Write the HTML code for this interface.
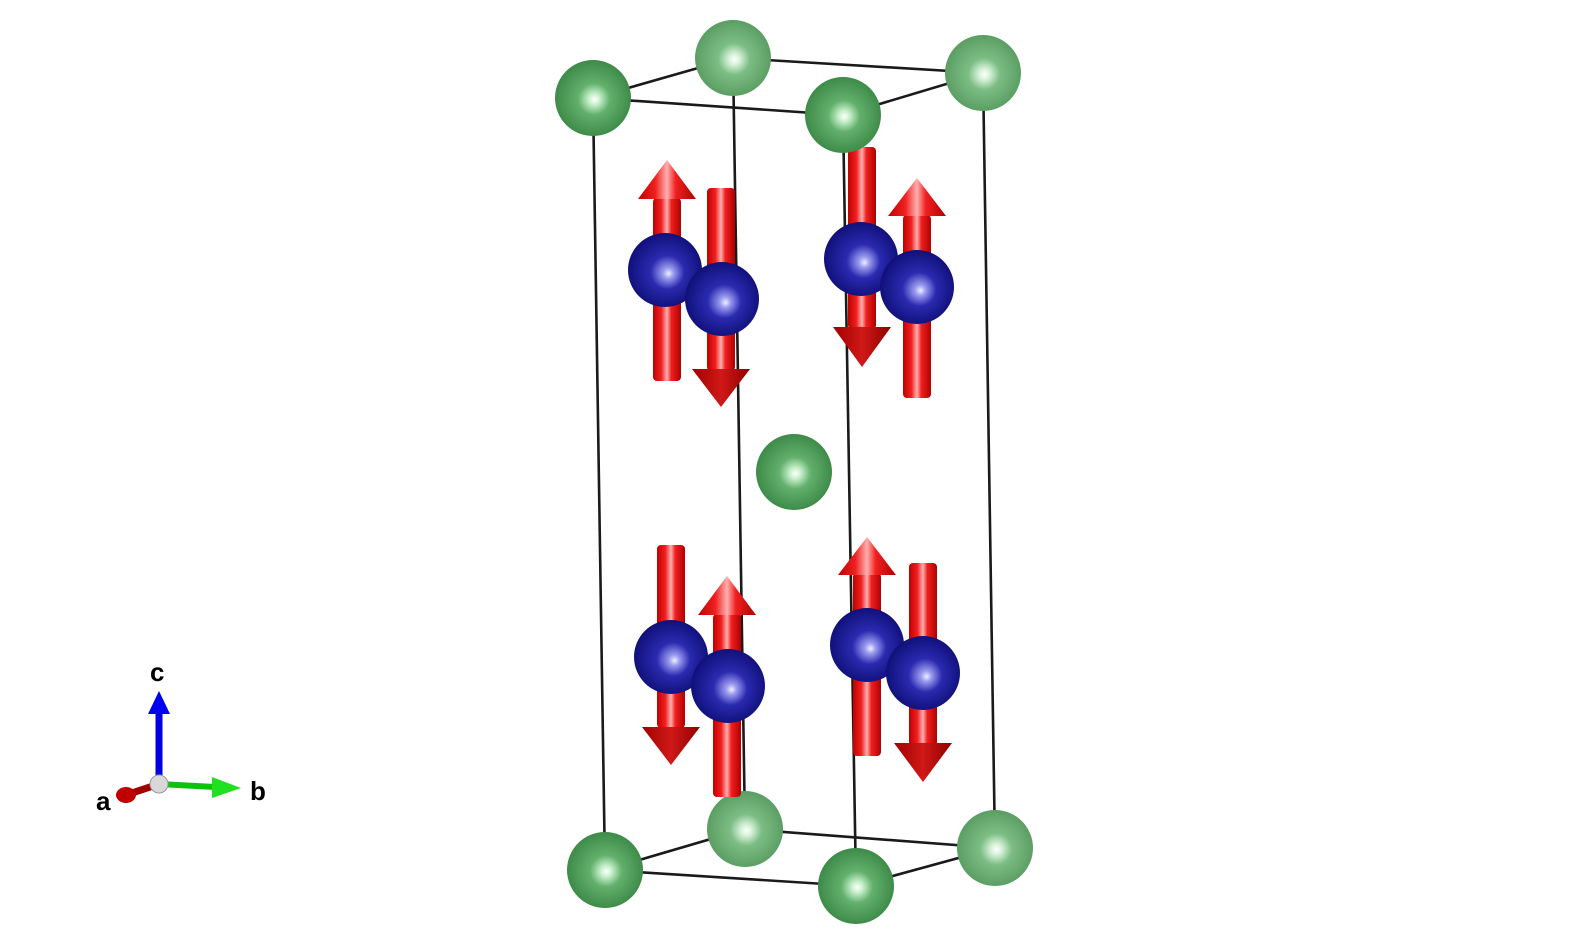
<!DOCTYPE html>
<html><head><meta charset="utf-8"><style>html,body{margin:0;padding:0;background:#fff;overflow:hidden}svg{display:block}</style></head>
<body>
<svg width="1590" height="944" viewBox="0 0 1590 944" preserveAspectRatio="none" xmlns="http://www.w3.org/2000/svg">
<defs>
<radialGradient id="g" cx="0.5" cy="0.5" r="0.6" fx="0.52" fy="0.52">
<stop offset="0" stop-color="#ffffff"/><stop offset="0.12" stop-color="#c8f0cc"/><stop offset="0.35" stop-color="#62b06c"/><stop offset="0.85" stop-color="#3d8a48"/><stop offset="1" stop-color="#2e6e38"/></radialGradient>
<radialGradient id="gl" cx="0.5" cy="0.5" r="0.6" fx="0.52" fy="0.52">
<stop offset="0" stop-color="#ffffff"/><stop offset="0.12" stop-color="#d6f2d8"/><stop offset="0.35" stop-color="#7cbd84"/><stop offset="0.85" stop-color="#5a9d62"/><stop offset="1" stop-color="#4a8552"/></radialGradient>
<radialGradient id="b" cx="0.5" cy="0.5" r="0.6" fx="0.55" fy="0.55">
<stop offset="0" stop-color="#f0f0ff"/><stop offset="0.12" stop-color="#9a9af0"/><stop offset="0.38" stop-color="#2a2ab0"/><stop offset="0.85" stop-color="#10107a"/><stop offset="1" stop-color="#06064e"/></radialGradient>
<linearGradient id="r" x1="0" x2="1" y1="0" y2="0">
<stop offset="0" stop-color="#c00000"/><stop offset="0.3" stop-color="#f02020"/><stop offset="0.5" stop-color="#ffb0b0"/><stop offset="0.65" stop-color="#f02020"/><stop offset="1" stop-color="#b00000"/></linearGradient>
<linearGradient id="rd" x1="0" x2="1" y1="0" y2="0">
<stop offset="0" stop-color="#a00000"/><stop offset="0.5" stop-color="#d01818"/><stop offset="1" stop-color="#900000"/></linearGradient>
</defs>
<g stroke="#1a1a1a" stroke-width="2.6" fill="none">
<polygon points="593,98 733,58 983,73 843,115"/>
<polygon points="605,870 745,829 995,848 856,886"/>
<line x1="593" y1="98" x2="605" y2="870"/>
<line x1="733" y1="58" x2="745" y2="829"/>
<line x1="983" y1="73" x2="995" y2="848"/>
<line x1="843" y1="115" x2="856" y2="886"/>
</g>
<circle cx="733" cy="58" r="38" fill="url(#gl)"/>
<circle cx="983" cy="73" r="38" fill="url(#gl)"/>
<circle cx="745" cy="829" r="38" fill="url(#gl)"/>
<circle cx="995" cy="848" r="38" fill="url(#gl)"/>
<g>
<rect x="653" y="198" width="28" height="183" rx="4" fill="url(#r)"/><polygon points="638,199 696,199 667,160" fill="url(#r)"/>
<circle cx="665" cy="270" r="37" fill="url(#b)"/>
<rect x="707" y="188" width="28" height="183" rx="4" fill="url(#r)"/><polygon points="692,369 750,369 721,407" fill="url(#rd)"/>
<circle cx="722" cy="299" r="37" fill="url(#b)"/>
<rect x="848" y="147" width="28" height="182" rx="4" fill="url(#r)"/><polygon points="833,327 891,327 862,367" fill="url(#rd)"/>
<circle cx="861" cy="259" r="37" fill="url(#b)"/>
<rect x="903" y="215" width="28" height="183" rx="4" fill="url(#r)"/><polygon points="888,216 946,216 917,178" fill="url(#r)"/>
<circle cx="917" cy="287" r="37" fill="url(#b)"/>
<rect x="657" y="545" width="28" height="183" rx="4" fill="url(#r)"/><polygon points="642,727 700,727 671,765" fill="url(#rd)"/>
<circle cx="671" cy="657" r="37" fill="url(#b)"/>
<rect x="713" y="614" width="28" height="183" rx="4" fill="url(#r)"/><polygon points="698,615 756,615 727,576" fill="url(#r)"/>
<circle cx="728" cy="686" r="37" fill="url(#b)"/>
<rect x="853" y="573" width="28" height="183" rx="4" fill="url(#r)"/><polygon points="838,575 896,575 867,537" fill="url(#r)"/>
<circle cx="867" cy="645" r="37" fill="url(#b)"/>
<rect x="909" y="563" width="28" height="183" rx="4" fill="url(#r)"/><polygon points="894,743 952,743 923,782" fill="url(#rd)"/>
<circle cx="923" cy="673" r="37" fill="url(#b)"/>
</g>
<circle cx="593" cy="98" r="38" fill="url(#g)"/>
<circle cx="843" cy="115" r="38" fill="url(#g)"/>
<circle cx="794" cy="472" r="38" fill="url(#g)"/>
<circle cx="605" cy="870" r="38" fill="url(#g)"/>
<circle cx="856" cy="886" r="38" fill="url(#g)"/>
<line x1="159" y1="784" x2="159" y2="712" stroke="#0000e0" stroke-width="7"/>
<polygon points="148,714 170,714 159,691" fill="#0000f0"/>
<line x1="159" y1="784" x2="215" y2="787" stroke="#10c010" stroke-width="6"/>
<polygon points="212,777 212,798 241,788" fill="#20e020"/>
<line x1="159" y1="784" x2="132" y2="793" stroke="#a00000" stroke-width="7"/>
<ellipse cx="126" cy="795" rx="10" ry="8" fill="#c00000"/>
<circle cx="159" cy="784" r="9" fill="#d8d8d8" stroke="#999" stroke-width="1"/>
<g font-family="Liberation Sans, sans-serif" font-weight="bold" font-size="26" fill="#000">
<text x="150" y="681">c</text>
<text x="250" y="800">b</text>
<text x="96" y="810">a</text>
</g>
</svg>
</body></html>
